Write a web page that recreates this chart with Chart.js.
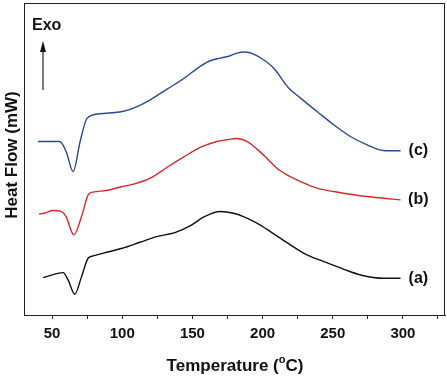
<!DOCTYPE html>
<html><head><meta charset="utf-8">
<script src="https://cdn.jsdelivr.net/npm/chart.js@4"></script>
<style>html,body{margin:0;padding:0;background:#fff}#w{width:447px;height:377px}</style>
</head><body><div id="w"><canvas id="c"></canvas></div>
<script>
// Temperature (°C) and heat flow (arbitrary units, exo up)
const tempC = [40, 55.5, 60, 65, 70, 75, 84, 100, 108, 120, 132, 143.6, 155.5, 162.6, 170, 177, 181.7, 187.6, 193.6, 200.7, 207.9, 218.6, 227, 238.8, 250.7, 262.6, 274.5, 286, 298.3];
const heatC = [520, 520, 490, 430, 520, 590, 603, 610, 620, 645, 677, 708, 745, 762, 770, 777, 785, 788, 782, 765, 740, 680, 650, 610, 570, 535, 510, 493, 492];
const tempB = [40.7, 44.7, 50.7, 56.7, 60, 65.5, 71, 75.7, 79, 88.8, 100, 107.9, 120, 131.7, 143.6, 155.5, 167.4, 174.5, 181.7, 188.8, 196, 203, 210.2, 217.4, 227, 238.8, 250.7, 262.6, 274.5, 286, 298.3];
const heatB = [303, 305, 313, 310, 295, 240, 295, 360, 368, 373, 385, 392, 410, 442, 473, 502, 520, 525, 529, 520, 497, 470, 440, 420, 400, 380, 370, 362, 355, 350, 345];
const tempA = [43.6, 57.9, 61.4, 66.2, 71, 75.7, 79.3, 88.8, 100, 112.6, 124.5, 137.6, 148.3, 157.9, 169.8, 179.3, 186.4, 196, 205.5, 217.4, 231.7, 243.6, 257.9, 269.8, 286.4, 298.3];
const heatA = [112, 127, 105, 62, 115, 170, 177, 188, 200, 218, 235, 247, 267, 293, 310, 305, 295, 275, 250, 217, 180, 160, 137, 120, 110, 110];
const xTicks = [50, 100, 150, 200, 250, 300];
const curveLabels = ['(a)', '(b)', '(c)'];

const toXY = (xs, ys) => xs.map((x, i) => ({x, y: ys[i]}));

Chart.defaults.font.family = '"Liberation Sans", Arial, sans-serif';
Chart.defaults.font.weight = 'bold';
Chart.defaults.color = '#111';

const deco = {
  id: 'deco',
  afterDraw(chart) {
    const {ctx, chartArea: a, scales} = chart;
    ctx.save();
    ctx.strokeStyle = '#222';
    ctx.lineWidth = 1;
    ctx.strokeRect(Math.round(a.left) + 0.5, Math.round(a.top) + 0.5, Math.round(a.right - a.left) - 1, Math.round(a.bottom - a.top));
    ctx.fillStyle = '#111';
    // curve labels
    ctx.font = 'bold 16px "Liberation Sans", Arial, sans-serif';
    ctx.textAlign = 'center';
    ctx.textBaseline = 'middle';
    const yS = scales.y, xS = scales.x;
    const ends = [heatA[heatA.length - 1], heatB[heatB.length - 1], heatC[heatC.length - 1]];
    curveLabels.forEach((t, i) => ctx.fillText(t, xS.getPixelForValue(311), yS.getPixelForValue(ends[i])));
    // Exo + arrow
    ctx.textAlign = 'left';
    ctx.fillText('Exo', 32, 26);
    ctx.beginPath();
    ctx.moveTo(43, 90); ctx.lineTo(43, 48);
    ctx.lineWidth = 1.2; ctx.stroke();
    ctx.beginPath();
    ctx.moveTo(43, 41); ctx.lineTo(40, 52); ctx.lineTo(46, 52); ctx.closePath(); ctx.fill();
    // y title
    ctx.save();
    ctx.translate(12, 155);
    ctx.rotate(-Math.PI / 2);
    ctx.textAlign = 'center';
    ctx.font = 'bold 17px "Liberation Sans", Arial, sans-serif';
    ctx.fillText('Heat Flow (mW)', 0, 0);
    ctx.restore();
    // x title with superscript o
    const p1 = 'Temperature (', p3 = 'C)';
    ctx.font = 'bold 17px "Liberation Sans", Arial, sans-serif';
    const w1 = ctx.measureText(p1).width, w3 = ctx.measureText(p3).width;
    ctx.font = 'bold 11px "Liberation Sans", Arial, sans-serif';
    const w2 = ctx.measureText('o').width;
    const total = w1 + w2 + w3;
    let x0 = 235 - total / 2;
    const yb = 366;
    ctx.textAlign = 'left';
    ctx.font = 'bold 17px "Liberation Sans", Arial, sans-serif';
    ctx.fillText(p1, x0, yb);
    ctx.font = 'bold 11px "Liberation Sans", Arial, sans-serif';
    ctx.fillText('o', x0 + w1, yb - 6);
    ctx.font = 'bold 17px "Liberation Sans", Arial, sans-serif';
    ctx.fillText(p3, x0 + w1 + w2, yb);
    ctx.restore();
  }
};

new Chart(document.getElementById('c'), {
  type: 'scatter',
  data: {
    datasets: [
      {label: '(a)', data: toXY(tempA, heatA), borderColor: '#111', showLine: true},
      {label: '(b)', data: toXY(tempB, heatB), borderColor: '#d42a2a', showLine: true},
      {label: '(c)', data: toXY(tempC, heatC), borderColor: '#2a4a8f', showLine: true}
    ]
  },
  options: {
    responsive: true, maintainAspectRatio: false, animation: false,
    layout: {padding: {left: 24, right: 2, top: 3, bottom: 0}},
    elements: {point: {radius: 0}, line: {borderWidth: 1.4, tension: 0.35, cubicInterpolationMode: 'monotone'}},
    plugins: {legend: {display: false}, tooltip: {enabled: false}},
    scales: {
      x: {
        type: 'linear', min: 30, max: 330,
        afterBuildTicks(s) { const t = []; for (let v = 50; v <= 325; v += 25) t.push({value: v}); s.ticks = t; },
        ticks: {font: {size: 15, weight: 'bold'}, color: '#111', padding: 6,
          callback: v => xTicks.includes(v) ? String(v) : ''},
        grid: {drawOnChartArea: false, drawTicks: true, tickLength: 4, color: '#222'},
        border: {display: true, color: '#222'},
        afterFit(s) { s.height = 62; }
      },
      y: {display: false, min: 0, max: 935}
    }
  },
  plugins: [deco]
});
</script></body></html>
